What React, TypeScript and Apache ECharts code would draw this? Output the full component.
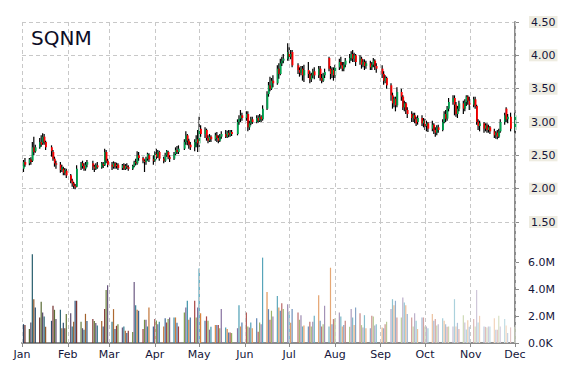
import React, { useEffect, useRef } from "react";
import * as echarts from "echarts";

const ticker = "SQNM";
const year = 2014;
const monthNames = ["Jan", "Feb", "Mar", "Apr", "May", "Jun", "Jul", "Aug", "Sep", "Oct", "Nov", "Dec"];
const holidays = ["2014-01-01", "2014-01-20", "2014-02-17", "2014-04-18", "2014-05-26", "2014-07-04", "2014-09-01", "2014-11-27"];

// [open, close, low, high]
const jan = [
  [2.30, 2.40, 2.25, 2.43], [2.40, 2.36, 2.33, 2.46], [2.38, 2.44, 2.35, 2.46], [2.44, 2.40, 2.36, 2.47],
  [2.42, 2.62, 2.40, 2.70], [2.62, 2.55, 2.50, 2.78], [2.56, 2.62, 2.54, 2.66], [2.62, 2.70, 2.60, 2.76],
  [2.70, 2.66, 2.63, 2.80], [2.68, 2.78, 2.66, 2.83], [2.78, 2.70, 2.66, 2.82], [2.70, 2.62, 2.58, 2.72],
  [2.62, 2.56, 2.48, 2.65], [2.55, 2.45, 2.42, 2.58], [2.45, 2.38, 2.33, 2.48], [2.38, 2.36, 2.30, 2.42],
  [2.36, 2.28, 2.24, 2.40], [2.28, 2.32, 2.25, 2.36], [2.30, 2.24, 2.20, 2.33], [2.24, 2.28, 2.20, 2.31],
  [2.27, 2.20, 2.16, 2.30],
];
const feb = [
  [2.20, 2.12, 2.08, 2.22], [2.12, 2.08, 2.03, 2.15], [2.08, 2.04, 2.00, 2.10], [2.04, 2.02, 1.99, 2.07],
  [2.03, 2.30, 2.02, 2.35], [2.32, 2.38, 2.28, 2.40], [2.38, 2.34, 2.30, 2.42], [2.34, 2.30, 2.27, 2.38],
  [2.30, 2.36, 2.27, 2.40], [2.36, 2.40, 2.32, 2.43], [2.38, 2.33, 2.28, 2.42], [2.33, 2.30, 2.25, 2.36],
  [2.30, 2.35, 2.28, 2.38], [2.35, 2.32, 2.30, 2.40], [2.32, 2.38, 2.30, 2.40], [2.37, 2.35, 2.31, 2.40],
  [2.35, 2.55, 2.34, 2.60], [2.55, 2.42, 2.38, 2.58], [2.42, 2.36, 2.32, 2.45],
];
const mar = [
  [2.36, 2.33, 2.28, 2.40], [2.33, 2.38, 2.30, 2.41], [2.38, 2.33, 2.30, 2.40], [2.34, 2.36, 2.30, 2.39],
  [2.36, 2.31, 2.28, 2.38], [2.31, 2.35, 2.28, 2.37], [2.35, 2.30, 2.28, 2.38], [2.30, 2.34, 2.28, 2.37],
  [2.34, 2.32, 2.29, 2.38], [2.32, 2.30, 2.27, 2.35], [2.30, 2.34, 2.28, 2.36], [2.34, 2.40, 2.32, 2.42],
  [2.40, 2.38, 2.35, 2.45], [2.38, 2.50, 2.36, 2.56], [2.50, 2.46, 2.42, 2.55], [2.46, 2.42, 2.38, 2.48],
  [2.42, 2.40, 2.25, 2.44], [2.40, 2.45, 2.36, 2.48], [2.45, 2.52, 2.42, 2.54], [2.50, 2.44, 2.40, 2.53],
  [2.44, 2.42, 2.36, 2.50],
];
const apr = [
  [2.42, 2.52, 2.40, 2.56], [2.52, 2.48, 2.44, 2.60], [2.48, 2.55, 2.46, 2.58], [2.55, 2.45, 2.42, 2.57],
  [2.45, 2.42, 2.38, 2.48], [2.42, 2.50, 2.40, 2.54], [2.50, 2.56, 2.48, 2.58], [2.55, 2.47, 2.44, 2.57],
  [2.47, 2.45, 2.40, 2.50], [2.45, 2.52, 2.43, 2.55], [2.52, 2.58, 2.50, 2.62], [2.58, 2.55, 2.52, 2.64],
  [2.55, 2.60, 2.52, 2.65], [2.60, 2.70, 2.58, 2.74], [2.70, 2.80, 2.66, 2.86], [2.80, 2.72, 2.65, 2.82],
  [2.72, 2.66, 2.60, 2.75], [2.66, 2.62, 2.58, 2.70], [2.62, 2.70, 2.56, 2.74], [2.70, 2.74, 2.62, 2.80],
  [2.74, 2.68, 2.55, 2.88],
];
const may = [
  [2.68, 2.90, 2.62, 3.08], [2.90, 2.82, 2.78, 2.95], [2.82, 2.88, 2.76, 2.92], [2.88, 2.76, 2.72, 2.90],
  [2.76, 2.72, 2.68, 2.80], [2.72, 2.78, 2.70, 2.82], [2.78, 2.74, 2.70, 2.80], [2.74, 2.80, 2.72, 2.84],
  [2.80, 2.76, 2.70, 2.85], [2.76, 2.72, 2.68, 2.80], [2.72, 2.78, 2.70, 2.82], [2.78, 2.82, 2.75, 2.86],
  [2.82, 2.78, 2.76, 2.88], [2.78, 2.84, 2.76, 2.87], [2.84, 2.80, 2.77, 2.88], [2.80, 2.85, 2.78, 2.88],
  [2.85, 2.82, 2.79, 2.88], [2.82, 3.00, 2.80, 3.04], [3.00, 3.05, 2.96, 3.10], [3.05, 3.10, 3.00, 3.18],
  [3.10, 3.06, 3.02, 3.14],
];
const jun = [
  [3.06, 3.12, 3.02, 3.16], [3.12, 2.92, 2.86, 3.16], [2.92, 2.98, 2.88, 3.02], [2.98, 3.04, 2.95, 3.08],
  [3.04, 3.00, 2.97, 3.08], [3.00, 3.06, 2.98, 3.10], [3.06, 3.02, 2.99, 3.10], [3.02, 3.08, 3.00, 3.12],
  [3.08, 3.04, 3.00, 3.10], [3.04, 3.20, 3.02, 3.25], [3.20, 3.42, 3.18, 3.46], [3.42, 3.55, 3.38, 3.60],
  [3.55, 3.50, 3.46, 3.68], [3.50, 3.62, 3.48, 3.66], [3.62, 3.58, 3.52, 3.70], [3.58, 3.80, 3.56, 3.85],
  [3.80, 3.72, 3.65, 3.88], [3.72, 3.88, 3.70, 3.95], [3.88, 3.92, 3.84, 3.98], [3.92, 3.95, 3.88, 4.02],
  [3.95, 4.05, 3.92, 4.18],
];
const jul = [
  [4.05, 3.98, 3.92, 4.12], [3.98, 4.02, 3.94, 4.08], [4.05, 3.85, 3.82, 4.08], [3.85, 3.78, 3.72, 3.88],
  [3.78, 3.74, 3.68, 3.82], [3.74, 3.80, 3.70, 3.84], [3.80, 3.70, 3.62, 3.84], [3.70, 3.78, 3.60, 3.86],
  [3.78, 3.72, 3.66, 3.90], [3.72, 3.64, 3.58, 3.76], [3.64, 3.70, 3.60, 3.74], [3.70, 3.76, 3.66, 3.80],
  [3.76, 3.70, 3.64, 3.82], [3.70, 3.80, 3.66, 3.84], [3.80, 3.66, 3.62, 3.84], [3.66, 3.62, 3.58, 3.72],
  [3.62, 3.70, 3.60, 3.74], [3.70, 3.75, 3.66, 3.80], [3.96, 3.80, 3.76, 3.98], [3.80, 3.72, 3.64, 3.84],
  [3.72, 3.78, 3.66, 3.82], [3.78, 3.70, 3.62, 3.82],
];
const aug = [
  [3.70, 3.82, 3.66, 3.86], [3.82, 3.90, 3.78, 3.95], [3.90, 3.85, 3.80, 3.98], [3.85, 3.80, 3.76, 3.90],
  [3.80, 3.86, 3.76, 3.90], [3.86, 3.92, 3.82, 3.96], [3.92, 3.96, 3.88, 4.02], [3.96, 4.02, 3.92, 4.06],
  [4.02, 3.95, 3.90, 4.08], [3.95, 4.00, 3.90, 4.04], [4.00, 3.90, 3.84, 4.02], [3.90, 3.95, 3.86, 4.00],
  [3.95, 3.86, 3.80, 3.98], [3.86, 3.90, 3.82, 3.94], [3.90, 3.84, 3.78, 3.94], [3.84, 3.88, 3.80, 3.92],
  [3.88, 3.82, 3.78, 3.92], [3.82, 3.86, 3.78, 3.90], [3.86, 3.92, 3.82, 3.96], [3.92, 3.84, 3.78, 3.94],
  [3.84, 3.80, 3.74, 3.88],
];
const sep = [
  [3.80, 3.72, 3.66, 3.85], [3.72, 3.62, 3.56, 3.76], [3.62, 3.66, 3.58, 3.70], [3.66, 3.55, 3.50, 3.68],
  [3.55, 3.40, 3.32, 3.58], [3.40, 3.28, 3.20, 3.44], [3.28, 3.35, 3.22, 3.38], [3.35, 3.25, 3.16, 3.38],
  [3.25, 3.45, 3.22, 3.52], [3.45, 3.38, 3.32, 3.50], [3.38, 3.22, 3.18, 3.40], [3.22, 3.28, 3.16, 3.32],
  [3.28, 3.18, 3.12, 3.30], [3.18, 3.12, 3.06, 3.22], [3.12, 3.06, 3.00, 3.16], [3.06, 3.10, 3.00, 3.14],
  [3.10, 3.04, 2.98, 3.14], [3.04, 2.98, 2.94, 3.08], [3.00, 3.06, 2.96, 3.10], [3.06, 2.98, 2.94, 3.10],
  [2.98, 3.02, 2.92, 3.06],
];
const oct = [
  [3.02, 2.94, 2.88, 3.05], [2.94, 2.98, 2.86, 3.02], [2.98, 2.90, 2.85, 3.00], [2.90, 2.96, 2.86, 3.02],
  [2.96, 2.88, 2.82, 2.98], [2.88, 2.84, 2.78, 2.92], [2.84, 2.92, 2.80, 2.95], [2.92, 2.88, 2.84, 2.96],
  [2.88, 3.00, 2.86, 3.04], [3.00, 3.12, 2.98, 3.16], [3.12, 3.05, 3.00, 3.18], [3.05, 3.20, 3.02, 3.24],
  [3.20, 3.30, 3.16, 3.36], [3.30, 3.36, 3.26, 3.40], [3.36, 3.26, 3.10, 3.40], [3.26, 3.12, 3.08, 3.30],
  [3.12, 3.20, 3.06, 3.24], [3.20, 3.28, 3.16, 3.32], [3.28, 3.20, 3.12, 3.32], [3.20, 3.30, 3.16, 3.34],
  [3.30, 3.38, 3.24, 3.40], [3.38, 3.32, 3.26, 3.40], [3.32, 3.26, 3.18, 3.38],
];
const nov = [
  [3.26, 3.34, 3.22, 3.38], [3.34, 3.24, 3.20, 3.38], [3.24, 3.00, 2.96, 3.26], [3.00, 2.94, 2.88, 3.04],
  [2.94, 2.98, 2.86, 3.02], [2.98, 2.90, 2.84, 3.00], [2.90, 2.95, 2.86, 2.98], [2.95, 2.88, 2.84, 2.98],
  [2.88, 2.92, 2.84, 2.96], [2.92, 2.86, 2.82, 2.94], [2.86, 2.80, 2.76, 2.90], [2.80, 2.84, 2.75, 2.86],
  [2.84, 2.78, 2.74, 2.88], [2.78, 2.86, 2.76, 2.90], [2.86, 3.00, 2.84, 3.04], [3.00, 3.10, 2.96, 3.14],
  [3.20, 3.04, 3.00, 3.22], [3.04, 3.08, 2.98, 3.12], [3.08, 2.90, 2.86, 3.14],
];
const dec = [[2.88, 3.10, 2.84, 3.14]];

// volume, millions of shares
const janVol = [1.4, 1.33, 1.04, 1.53, 6.6, 3.26, 2.64, 1.9, 3.06, 2.27, 1.98, 1.2, 1.65, 2.77, 2.47, 1.78, 2.47, 1.1, 1.5, 1.1, 2.15];
const febVol = [2.22, 1.23, 1.58, 3.14, 3.14, 1.58, 1.1, 0.99, 2.17, 1.63, 1.78, 1.63, 1.48, 1.3, 1.63, 1.23, 2.52, 3.95, 4.3];
const marVol = [1.58, 2.52, 1.04, 1.28, 1.4, 1.16, 1.23, 0.91, 0.74, 0.91, 0.81, 4.54, 2.81, 2.47, 2.4, 1.04, 1.73, 1.73, 1.23, 2.64, 1.23];
const aprVol = [1.78, 1.68, 1.4, 1.58, 1.23, 1.85, 1.53, 1.78, 1.9, 1.9, 1.9, 1.5, 1.23, 2.27, 2.64, 3.14, 1.73, 1.9, 3.14, 1.9, 2.64];
const mayVol = [5.55, 2.22, 1.65, 1.98, 1.65, 0.99, 1.2, 1.33, 1.33, 1.33, 1.09, 2.52, 1.16, 1.04, 0.79, 0.79, 0.74, 1.1, 2.81, 1.23, 1.53];
const junVol = [2.27, 1.23, 1.16, 1.53, 1.09, 1.85, 0.84, 1.53, 1.4, 6.35, 3.8, 2.52, 1.73, 2.4, 1.98, 3.5, 2.64, 2.4, 2.96, 2.52, 2.89];
const julVol = [2.32, 1.5, 2.52, 2.27, 1.73, 2.07, 1.23, 1.3, 1.23, 1.58, 1.23, 1.58, 2.02, 3.56, 1.65, 1.23, 1.4, 2.77, 1.23, 5.6, 1.4, 1.78];
const augVol = [1.83, 2.27, 1.98, 1.23, 1.33, 1.65, 1.2, 2.52, 1.9, 1.33, 2.64, 2.22, 1.33, 1.16, 2.07, 1.09, 1.1, 2.02, 1.98, 1.3, 1.4];
const sepVol = [1.16, 1.09, 1.4, 1.58, 2.52, 3.26, 2.81, 3.14, 1.9, 1.9, 3.38, 3.01, 2.81, 2.15, 1.9, 1.23, 2.22, 1.65, 1.04, 1.9, 1.9];
const octVol = [1.23, 1.23, 1.1, 2.15, 1.65, 1.78, 1.3, 1.4, 1.85, 1.65, 1.4, 1.2, 1.23, 1.23, 3.26, 1.23, 1.5, 1.04, 2.07, 1.53, 1.0, 1.7, 1.2];
const novVol = [1.78, 1.23, 3.95, 1.53, 2.02, 1.23, 1.2, 1.16, 1.23, 1.23, 1.85, 0.99, 0.99, 2.02, 1.23, 1.78, 1.3, 0.74, 1.16];
const decVol = [1.2];

const volumeTicks = [0, 2e6, 4e6, 6e6];

const monthsOHLC = [jan, feb, mar, apr, may, jun, jul, aug, sep, oct, nov, dec];
const monthsVol = [janVol, febVol, marVol, aprVol, mayVol, junVol, julVol, augVol, sepVol, octVol, novVol, decVol];

const palette = ["#4572A7", "#AA4643", "#89A54E", "#80699B", "#3D96AE", "#DB843D"];
const UP = "#00A651";
const DOWN = "#FF0000";
const TEXT = "#15153a";
const FONT = "DejaVu Sans";
const GRID_LINE = { color: "#c8c8c8", type: [4, 3] as any, width: 1 };

function pad(n: number) {
  return n < 10 ? "0" + n : "" + n;
}
function tradingDays(y: number, m: number) {
  const out: number[] = [];
  const d = new Date(y, m, 1);
  while (d.getMonth() === m) {
    const wd = d.getDay();
    const key = `${y}-${pad(m + 1)}-${pad(d.getDate())}`;
    if (wd !== 0 && wd !== 6 && !holidays.includes(key)) out.push(d.getTime());
    d.setDate(d.getDate() + 1);
  }
  return out;
}
function shade(hex: string, s: number) {
  const r = parseInt(hex.slice(1, 3), 16);
  const g = parseInt(hex.slice(3, 5), 16);
  const b = parseInt(hex.slice(5, 7), 16);
  const f = (c: number) => Math.round(s < 0 ? c * (1 + s) : c + (255 - c) * s);
  return `rgb(${f(r)},${f(g)},${f(b)})`;
}

export default function App() {
  const ref = useRef<HTMLDivElement>(null);
  useEffect(() => {
    if (!ref.current) return;
    const chart = echarts.init(ref.current, undefined, { renderer: "svg" });

    const candleData: number[][] = [];
    const volRaw: number[][] = [];
    monthsOHLC.forEach((arr, m) => {
      const days = tradingDays(year, m);
      arr.forEach((c, i) => {
        if (days[i] === undefined) return;
        candleData.push([days[i], c[0], c[1], c[2], c[3]]);
        volRaw.push([days[i], monthsVol[m][i] * 1e6]);
      });
    });
    const n = volRaw.length;
    const volData = volRaw.map((v, i) => {
      const t = i / (n - 1);
      const s = -0.4 + 1.1 * t;
      return { value: v, itemStyle: { color: shade(palette[i % palette.length], Math.max(-0.45, Math.min(0.72, s))) } };
    });

    const minT = new Date(year, 0, 1).getTime();
    const maxT = new Date(year, 11, 1).getTime();
    const monthStarts = monthNames.map((_, m) => new Date(year, m, 1).getTime());
    const monthLines = {
      silent: true,
      symbol: ["none", "none"],
      label: { show: false },
      lineStyle: GRID_LINE,
      emphasis: { disabled: true },
      data: monthStarts.map((t) => ({ xAxis: t })),
    };

    const grid = { left: 22, right: 55 };
    const axisLineStyle = { color: "#8c8c8c", width: 2 };

    chart.setOption({
      animation: false,
      backgroundColor: "#ffffff",
      title: {
        text: ticker,
        left: 26,
        top: 23,
        textStyle: { fontSize: 20, fontWeight: "normal", fontFamily: FONT, color: "#0d0d26" },
      },
      grid: [
        { ...grid, top: 22, height: 200 },
        { ...grid, top: 222, height: 121 },
      ],
      xAxis: [
        {
          type: "value",
          gridIndex: 0,
          min: minT,
          max: maxT,
          axisLine: { show: false },
          axisTick: { show: false },
          axisLabel: { show: false },
          splitLine: { show: false },
        },
        {
          type: "value",
          gridIndex: 1,
          min: minT,
          max: maxT,
          axisLine: { show: true, lineStyle: axisLineStyle },
          axisTick: { show: true, length: 4, customValues: monthStarts, lineStyle: { color: "#8c8c8c", width: 1 } },
          axisLabel: {
            show: true,
            customValues: monthStarts,
            margin: 6,
            fontSize: 11,
            fontFamily: FONT,
            color: TEXT,
            formatter: (v: number) => monthNames[new Date(v).getMonth()],
          },
          splitLine: { show: false },
        },
      ],
      yAxis: [
        {
          type: "value",
          gridIndex: 0,
          position: "right",
          min: 1.5,
          max: 4.5,
          interval: 0.5,
          axisLine: { show: true, lineStyle: axisLineStyle },
          axisTick: { show: true, length: 4, lineStyle: { color: "#8c8c8c", width: 1 } },
          axisLabel: {
            margin: 14,
            fontSize: 11,
            fontFamily: FONT,
            color: TEXT,
            backgroundColor: "#EEECE1",
            padding: [1, 2, 0, 2],
            formatter: (v: number) => v.toFixed(2),
          },
          splitLine: { show: true, lineStyle: GRID_LINE },
        },
        {
          type: "value",
          gridIndex: 1,
          position: "right",
          min: 0,
          max: 9e6,
          interval: 2e6,
          axisLine: { show: true, lineStyle: axisLineStyle },
          axisTick: { show: true, length: 4, customValues: volumeTicks, lineStyle: { color: "#8c8c8c", width: 1 } },
          axisLabel: {
            customValues: volumeTicks,
            margin: 13,
            fontSize: 11,
            fontFamily: FONT,
            color: TEXT,
            formatter: (v: number) => (v === 0 ? "0.0K" : (v / 1e6).toFixed(1) + "M"),
          },
          splitLine: { show: false },
        },
      ],
      series: [
        {
          type: "custom",
          xAxisIndex: 0,
          yAxisIndex: 0,
          clip: false,
          encode: { x: 0, y: [1, 2, 3, 4] },
          data: candleData,
          markLine: monthLines,
          renderItem: (params: any, api: any) => {
            const x = api.value(0);
            const o = api.value(1);
            const c = api.value(2);
            const l = api.value(3);
            const h = api.value(4);
            const pH = api.coord([x, h]);
            const pL = api.coord([x, l]);
            const pO = api.coord([x, o]);
            const pC = api.coord([x, c]);
            const cx = pH[0];
            const top = Math.min(pO[1], pC[1]);
            const bot = Math.max(pO[1], pC[1]);
            return {
              type: "group",
              children: [
                { type: "line", shape: { x1: cx, y1: pH[1], x2: cx, y2: pL[1] }, style: { stroke: "#000", lineWidth: 1.2 } },
                {
                  type: "rect",
                  shape: { x: cx - 0.5, y: top, width: 1.8, height: Math.max(1, bot - top) },
                  style: { fill: c >= o ? UP : DOWN },
                },
              ],
            };
          },
        },
        {
          type: "bar",
          xAxisIndex: 1,
          yAxisIndex: 1,
          barWidth: 1.2,
          data: volData,
          markLine: monthLines,
        },
      ],
    });
    return () => chart.dispose();
  }, []);
  return <div ref={ref} style={{ position: "absolute", left: 0, top: 0, width: 570, height: 370 }} />;
}
